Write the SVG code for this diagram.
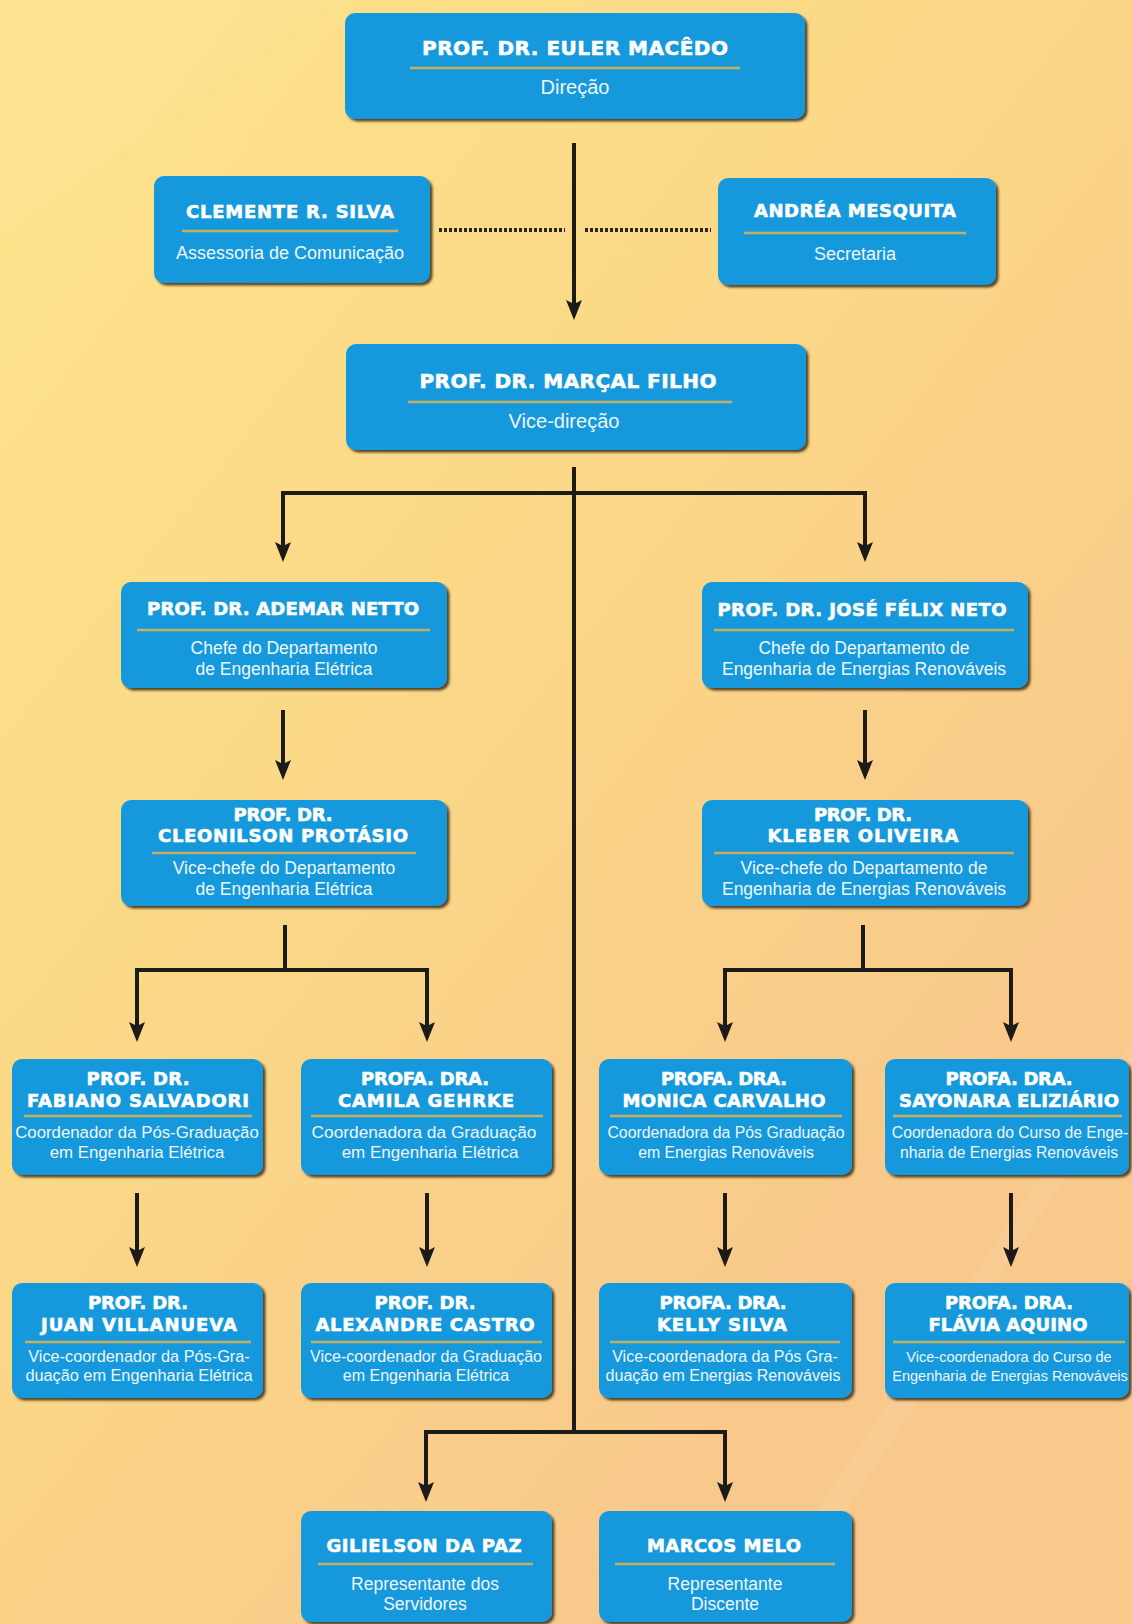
<svg xmlns="http://www.w3.org/2000/svg" width="1132" height="1624" viewBox="0 0 1132 1624">
<defs>
<linearGradient id="bg" gradientUnits="userSpaceOnUse" x1="0" y1="0" x2="1132" y2="900">
<stop offset="0" stop-color="#fde38a"/>
<stop offset="0.5" stop-color="#fbd987"/>
<stop offset="1" stop-color="#f8c98b"/>
</linearGradient>
<filter id="sh" x="-5%" y="-5%" width="112%" height="115%">
<feDropShadow dx="2.5" dy="2.5" stdDeviation="1.2" flood-color="#3a2a0c" flood-opacity="0.85"/>
</filter>
<marker id="ah" markerUnits="userSpaceOnUse" markerWidth="20" markerHeight="16" viewBox="0 0 20 16" refX="10" refY="8" orient="auto">
<path d="M0,0 L20,8 L0,16 L4,8 z" fill="#1d1b18"/>
</marker>
<style>
.box{fill:#1699dc;filter:url(#sh)}
.nm{font-family:"DejaVu Sans","Liberation Sans",sans-serif;font-weight:bold;font-size:18px;fill:#ffffff;stroke:#ffffff;stroke-width:0.6;text-anchor:middle}
.big{font-size:20px}
.sb{font-family:"Liberation Sans",Arial,sans-serif;fill:#eef7fd;text-anchor:middle}
.dv{stroke:#c5b062;stroke-width:2.5}
.cn{fill:none;stroke:#1d1b18;stroke-width:4}
.ar{marker-end:url(#ah)}
.dot{fill:none;stroke:#2a2620;stroke-width:4;stroke-dasharray:3 2}
</style>
</defs>
<rect x="0" y="0" width="1132" height="1624" fill="url(#bg)"/>
<polygon points="0,0 340,0 0,240" fill="#ffffff" opacity="0.06"/>
<polygon points="740,1624 1132,1040 1132,1075 772,1624" fill="#ffffff" opacity="0.08"/>

<g id="connectors">
<path class="cn ar" d="M574,143 V310"/>
<path class="dot" d="M439,230 H565"/>
<path class="dot" d="M585,230 H711"/>
<path class="cn" d="M574,467 V1432"/>
<path class="cn ar" d="M574,493 H283 V552"/>
<path class="cn ar" d="M574,493 H865 V552"/>
<path class="cn ar" d="M283,710 V770"/>
<path class="cn ar" d="M865,710 V770"/>
<path class="cn" d="M285,925 V970"/>
<path class="cn ar" d="M285,970 H137 V1032"/>
<path class="cn ar" d="M285,970 H427 V1032"/>
<path class="cn" d="M863,925 V970"/>
<path class="cn ar" d="M863,970 H725 V1032"/>
<path class="cn ar" d="M863,970 H1011 V1032"/>
<path class="cn ar" d="M137,1193 V1257"/>
<path class="cn ar" d="M427,1193 V1257"/>
<path class="cn ar" d="M725,1193 V1257"/>
<path class="cn ar" d="M1011,1193 V1257"/>
<path class="cn ar" d="M574,1432 H426 V1492"/>
<path class="cn ar" d="M574,1432 H725 V1492"/>
</g>

<g id="n-euler">
<rect class="box" x="345" y="13" width="460" height="106" rx="10"/>
<text class="nm big" x="575" y="55" textLength="306">PROF. DR. EULER MACÊDO</text>
<line class="dv" x1="410" y1="68" x2="740" y2="68"/>
<text class="sb" x="575" y="94" font-size="20">Direção</text>
</g>

<g id="n-clemente">
<rect class="box" x="154" y="176" width="276" height="107" rx="10"/>
<text class="nm" x="290" y="218" textLength="208">CLEMENTE R. SILVA</text>
<line class="dv" x1="182" y1="231" x2="398" y2="231"/>
<text class="sb" x="290" y="259" font-size="18">Assessoria de Comunicação</text>
</g>

<g id="n-andrea">
<rect class="box" x="718" y="178" width="278" height="107" rx="10"/>
<text class="nm" x="855" y="217" textLength="202">ANDRÉA MESQUITA</text>
<line class="dv" x1="744" y1="233" x2="966" y2="233"/>
<text class="sb" x="855" y="260" font-size="18">Secretaria</text>
</g>

<g id="n-marcal">
<rect class="box" x="346" y="344" width="460" height="106" rx="10"/>
<text class="nm big" x="568" y="388" textLength="297">PROF. DR. MARÇAL FILHO</text>
<line class="dv" x1="408" y1="402" x2="732" y2="402"/>
<text class="sb" x="564" y="428" font-size="20">Vice-direção</text>
</g>

<g id="n-ademar">
<rect class="box" x="121" y="582" width="326" height="106" rx="10"/>
<text class="nm" x="283" y="615" textLength="272">PROF. DR. ADEMAR NETTO</text>
<line class="dv" x1="137" y1="630" x2="430" y2="630"/>
<text class="sb" x="284" y="654" font-size="17.5">Chefe do Departamento</text>
<text class="sb" x="284" y="675" font-size="17.5">de Engenharia Elétrica</text>
</g>

<g id="n-jose">
<rect class="box" x="702" y="582" width="326" height="106" rx="10"/>
<text class="nm" x="862" y="616" textLength="289">PROF. DR. JOSÉ FÉLIX NETO</text>
<line class="dv" x1="714" y1="630" x2="1014" y2="630"/>
<text class="sb" x="864" y="654" font-size="17.5">Chefe do Departamento de</text>
<text class="sb" x="864" y="675" font-size="17.5">Engenharia de Energias Renováveis</text>
</g>

<g id="n-cleonilson">
<rect class="box" x="121" y="800" width="326" height="106" rx="10"/>
<text class="nm" x="283" y="821" textLength="99">PROF. DR.</text>
<text class="nm" x="283" y="842" textLength="250">CLEONILSON PROTÁSIO</text>
<line class="dv" x1="152" y1="853" x2="416" y2="853"/>
<text class="sb" x="284" y="874" font-size="17.5">Vice-chefe do Departamento</text>
<text class="sb" x="284" y="895" font-size="17.5">de Engenharia Elétrica</text>
</g>

<g id="n-kleber">
<rect class="box" x="702" y="800" width="326" height="106" rx="10"/>
<text class="nm" x="863" y="821" textLength="98">PROF. DR.</text>
<text class="nm" x="863" y="842" textLength="191">KLEBER OLIVEIRA</text>
<line class="dv" x1="714" y1="853" x2="1014" y2="853"/>
<text class="sb" x="864" y="874" font-size="17.5">Vice-chefe do Departamento de</text>
<text class="sb" x="864" y="895" font-size="17.5">Engenharia de Energias Renováveis</text>
</g>

<g id="n-fabiano">
<rect class="box" x="12" y="1059" width="251" height="116" rx="10"/>
<text class="nm" x="138" y="1085" textLength="103">PROF. DR.</text>
<text class="nm" x="138" y="1107" textLength="222">FABIANO SALVADORI</text>
<line class="dv" x1="24" y1="1116" x2="252" y2="1116"/>
<text class="sb" x="137" y="1138" font-size="16.8">Coordenador da Pós-Graduação</text>
<text class="sb" x="137" y="1158" font-size="16.8">em Engenharia Elétrica</text>
</g>

<g id="n-camila">
<rect class="box" x="301" y="1059" width="251" height="116" rx="10"/>
<text class="nm" x="425" y="1085" textLength="128">PROFA. DRA.</text>
<text class="nm" x="426" y="1107" textLength="176">CAMILA GEHRKE</text>
<line class="dv" x1="311" y1="1116" x2="543" y2="1116"/>
<text class="sb" x="424" y="1138" font-size="17.3">Coordenadora da Graduação</text>
<text class="sb" x="430" y="1158" font-size="17">em Engenharia Elétrica</text>
</g>

<g id="n-monica">
<rect class="box" x="599" y="1059" width="253" height="116" rx="10"/>
<text class="nm" x="724" y="1085" textLength="126">PROFA. DRA.</text>
<text class="nm" x="724" y="1107" textLength="203">MONICA CARVALHO</text>
<line class="dv" x1="610" y1="1116" x2="842" y2="1116"/>
<text class="sb" x="726" y="1138" font-size="15.8">Coordenadora da Pós Graduação</text>
<text class="sb" x="726" y="1158" font-size="15.8">em Energias Renováveis</text>
</g>

<g id="n-sayonara">
<rect class="box" x="885" y="1059" width="244" height="116" rx="10"/>
<text class="nm" x="1009" y="1085" textLength="127">PROFA. DRA.</text>
<text class="nm" x="1009" y="1107" textLength="220">SAYONARA ELIZIÁRIO</text>
<line class="dv" x1="893" y1="1116" x2="1122" y2="1116"/>
<text class="sb" x="1010" y="1138" font-size="15.7">Coordenadora do Curso de Enge-</text>
<text class="sb" x="1009" y="1158" font-size="15.7">nharia de Energias Renováveis</text>
</g>

<g id="n-juan">
<rect class="box" x="12" y="1283" width="251" height="115" rx="10"/>
<text class="nm" x="138" y="1309" textLength="100">PROF. DR.</text>
<text class="nm" x="139" y="1331" textLength="196">JUAN VILLANUEVA</text>
<line class="dv" x1="25" y1="1342" x2="251" y2="1342"/>
<text class="sb" x="139" y="1362" font-size="16.3">Vice-coordenador da Pós-Gra-</text>
<text class="sb" x="139" y="1381" font-size="16.3">duação em Engenharia Elétrica</text>
</g>

<g id="n-alexandre">
<rect class="box" x="301" y="1283" width="251" height="115" rx="10"/>
<text class="nm" x="425" y="1309" textLength="101">PROF. DR.</text>
<text class="nm" x="425" y="1331" textLength="219">ALEXANDRE CASTRO</text>
<line class="dv" x1="311" y1="1342" x2="542" y2="1342"/>
<text class="sb" x="426" y="1362" font-size="16">Vice-coordenador da Graduação</text>
<text class="sb" x="426" y="1381" font-size="16">em Engenharia Elétrica</text>
</g>

<g id="n-kelly">
<rect class="box" x="599" y="1283" width="253" height="115" rx="10"/>
<text class="nm" x="723" y="1309" textLength="127">PROFA. DRA.</text>
<text class="nm" x="722" y="1331" textLength="130">KELLY SILVA</text>
<line class="dv" x1="610" y1="1342" x2="840" y2="1342"/>
<text class="sb" x="725" y="1362" font-size="16">Vice-coordenadora da Pós Gra-</text>
<text class="sb" x="723" y="1381" font-size="16">duação em Energias Renováveis</text>
</g>

<g id="n-flavia">
<rect class="box" x="885" y="1283" width="244" height="115" rx="10"/>
<text class="nm" x="1009" y="1309" textLength="128">PROFA. DRA.</text>
<text class="nm" x="1008" y="1331" textLength="159">FLÁVIA AQUINO</text>
<line class="dv" x1="893" y1="1342" x2="1125" y2="1342"/>
<text class="sb" x="1009" y="1362" font-size="14.5">Vice-coordenadora do Curso de</text>
<text class="sb" x="1010" y="1381" font-size="14.5">Engenharia de Energias Renováveis</text>
</g>

<g id="n-gilielson">
<rect class="box" x="301" y="1511" width="251" height="111" rx="10"/>
<text class="nm" x="424" y="1552" textLength="195">GILIELSON DA PAZ</text>
<line class="dv" x1="318" y1="1564" x2="533" y2="1564"/>
<text class="sb" x="425" y="1590" font-size="17.5">Representante dos</text>
<text class="sb" x="425" y="1610" font-size="17.5">Servidores</text>
</g>

<g id="n-marcos">
<rect class="box" x="599" y="1511" width="253" height="111" rx="10"/>
<text class="nm" x="724" y="1552" textLength="154">MARCOS MELO</text>
<line class="dv" x1="615" y1="1564" x2="835" y2="1564"/>
<text class="sb" x="725" y="1590" font-size="17.5">Representante</text>
<text class="sb" x="725" y="1610" font-size="17.5">Discente</text>
</g>
</svg>
